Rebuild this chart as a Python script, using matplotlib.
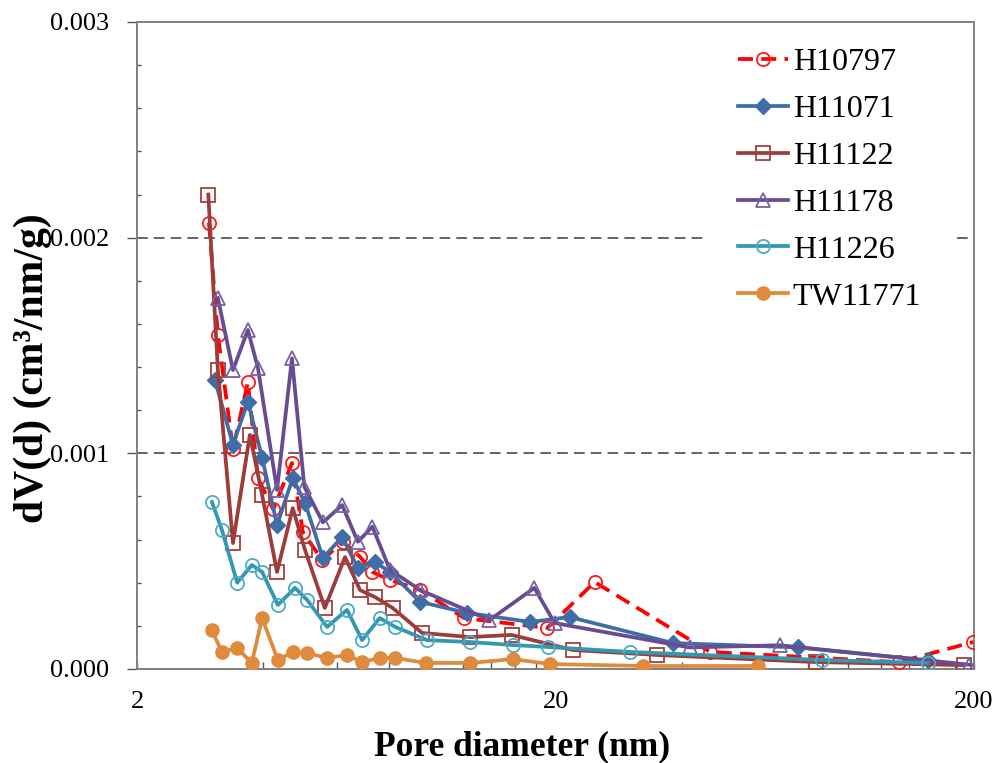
import matplotlib
matplotlib.use("Agg")
import matplotlib.pyplot as plt
from matplotlib.ticker import FixedLocator, NullFormatter

plt.rcParams["font.family"] = ["Liberation Serif", "DejaVu Serif"]

# pore size distribution, x in nm, y in cm3/nm/g
h10797_x = [2.97, 3.12, 3.39, 3.68, 3.89, 4.23, 4.69, 4.98, 5.54, 6.2, 6.82, 7.3, 8.04, 9.5,
            12.1, 19.1, 24.8, 46.8, 132, 199]
h10797_y = [2.07e-3, 1.55e-3, 1.02e-3, 1.33e-3, 0.885e-3, 0.74e-3, 0.955e-3, 0.635e-3, 0.505e-3,
            0.59e-3, 0.52e-3, 0.45e-3, 0.413e-3, 0.366e-3, 0.236e-3, 0.19e-3, 0.403e-3,
            0.079e-3, 0.032e-3, 0.125e-3]

h11071_x = [3.07, 3.39, 3.68, 3.98, 4.32, 4.71, 5.04, 5.56, 6.18, 6.74, 7.4, 8.04, 9.5,
            12.3, 17.4, 21.6, 38.2, 76, 155]
h11071_y = [1.34e-3, 1.04e-3, 1.24e-3, 0.98e-3, 0.668e-3, 0.885e-3, 0.77e-3, 0.515e-3, 0.612e-3,
            0.468e-3, 0.496e-3, 0.45e-3, 0.311e-3, 0.26e-3, 0.218e-3, 0.241e-3, 0.12e-3,
            0.10e-3, 0.04e-3]

h11122_x = [2.96, 3.12, 3.39, 3.72, 3.98, 4.32, 4.71, 5.04, 5.62, 6.28, 6.82, 7.4, 8.16, 9.6,
            12.5, 15.7, 22.0, 35.0, 84, 189]
h11122_y = [2.20e-3, 1.386e-3, 0.584e-3, 1.085e-3, 0.807e-3, 0.45e-3, 0.746e-3, 0.552e-3,
            0.283e-3, 0.519e-3, 0.366e-3, 0.334e-3, 0.283e-3, 0.167e-3, 0.148e-3, 0.158e-3,
            0.088e-3, 0.065e-3, 0.032e-3, 0.018e-3]

h11178_x = [3.12, 3.39, 3.68, 3.89, 4.32, 4.69, 5.02, 5.56, 6.18, 6.74, 7.3, 8.04, 9.5,
            13.9, 17.8, 19.9, 41.8, 68.7, 195]
h11178_y = [1.72e-3, 1.386e-3, 1.572e-3, 1.395e-3, 0.83e-3, 1.44e-3, 0.845e-3, 0.68e-3,
            0.76e-3, 0.59e-3, 0.66e-3, 0.46e-3, 0.366e-3, 0.227e-3, 0.376e-3, 0.213e-3,
            0.10e-3, 0.11e-3, 0.02e-3]

h11226_x = [3.02, 3.19, 3.47, 3.76, 3.98, 4.34, 4.77, 5.1, 5.69, 6.35, 6.9, 7.6, 8.28, 9.86,
            12.5, 15.8, 19.2, 30.1, 86.6, 155]
h11226_y = [0.774e-3, 0.645e-3, 0.40e-3, 0.482e-3, 0.45e-3, 0.297e-3, 0.376e-3, 0.32e-3,
            0.195e-3, 0.274e-3, 0.134e-3, 0.236e-3, 0.195e-3, 0.134e-3, 0.125e-3, 0.111e-3,
            0.102e-3, 0.079e-3, 0.042e-3, 0.028e-3]

tw11771_x = [3.02, 3.19, 3.47, 3.76, 3.98, 4.34, 4.71, 5.1, 5.69, 6.35, 6.9, 7.6, 8.28, 9.8,
             12.5, 15.8, 19.4, 32.4, 61]
tw11771_y = [0.18e-3, 0.079e-3, 0.097e-3, 0.028e-3, 0.236e-3, 0.042e-3, 0.079e-3, 0.074e-3,
             0.051e-3, 0.065e-3, 0.032e-3, 0.051e-3, 0.051e-3, 0.028e-3, 0.028e-3, 0.046e-3,
             0.023e-3, 0.014e-3, 0.014e-3]

fig = plt.figure(figsize=(9.96, 7.63), dpi=100)
ax = fig.add_axes([0.1376, 0.1232, 0.8404, 0.848])

# dashed gridlines; the upper one is interrupted behind the legend
grid_kw = dict(color="#3a3a3a", lw=1.1, ls=(0, (7, 4)), zorder=1)
ax.axhline(0.001, **grid_kw)
ax.axhline(0.002, xmax=0.676, **grid_kw)
ax.axhline(0.002, xmin=0.979, **grid_kw)

lw = 2.7
ms = 9.5
ax.plot(h10797_x, h10797_y, color="#ff0000", lw=lw, ls=(0, (4, 2.2)), marker="o", ms=ms,
        mfc="none", mec="#ff1a1a", mew=1.3, label="H10797", zorder=3)
ax.plot(h11071_x, h11071_y, color="#3d6ea8", lw=lw, marker="D", ms=8.5,
        mfc="#3d6ea8", mec="#3d6ea8", label="H11071", zorder=3)
ax.plot(h11122_x, h11122_y, color="#9c3d3b", lw=lw, marker="s", ms=ms,
        mfc="none", mec="#a3403e", mew=1.3, label="H11122", zorder=3)
ax.plot(h11178_x, h11178_y, color="#674c92", lw=lw, marker="^", ms=ms + 1,
        mfc="none", mec="#7a5fa3", mew=1.3, label="H11178", zorder=3)
ax.plot(h11226_x, h11226_y, color="#3496b0", lw=lw, marker="o", ms=ms,
        mfc="none", mec="#4bacc6", mew=1.3, label="H11226", zorder=3)
ax.plot(tw11771_x, tw11771_y, color="#df8a3c", lw=lw, marker="o", ms=ms,
        mfc="#df8a3c", mec="#df8a3c", label="TW11771", zorder=3)

ax.set_xscale("log")
ax.set_xlim(2, 200)
ax.set_ylim(0, 0.003)

ax.xaxis.set_major_locator(FixedLocator([2, 20, 200]))
ax.set_xticklabels(["2", "20", "200"])
ax.xaxis.set_minor_locator(FixedLocator(list(range(4, 20, 2)) + list(range(40, 200, 20))))
ax.xaxis.set_minor_formatter(NullFormatter())

ax.set_yticks([0, 0.001, 0.002, 0.003])
ax.set_yticklabels(["0.000", "0.001", "0.002", "0.003"])
ax.yaxis.set_minor_locator(FixedLocator([i * 0.0002 for i in range(16)]))

ax.tick_params(axis="x", which="both", direction="in", length=5, width=1,
               color="#555555", labelsize=19, pad=16)
ax.tick_params(axis="y", which="major", direction="out", length=7, width=1,
               color="#555555", labelsize=19, pad=13)
ax.tick_params(axis="y", which="minor", direction="in", length=3, width=1, color="#555555")

for sp in ax.spines.values():
    sp.set_color("#808080")
    sp.set_linewidth(1.4)

ax.set_xlabel("Pore diameter (nm)", fontsize=25.5, fontweight="bold")
ax.xaxis.set_label_coords(0.46, -0.094)
ax.set_ylabel("dV(d) (cm³/nm/g)", fontsize=30, fontweight="bold")
ax.yaxis.set_label_coords(-0.102, 0.465)

ax.legend(loc="upper left", bbox_to_anchor=(0.688, 1.0), fontsize=23,
          frameon=False, handlelength=1.55, handletextpad=0.15, labelspacing=0.55,
          borderpad=0.3, numpoints=1)

fig.savefig("out.png", dpi=100)
